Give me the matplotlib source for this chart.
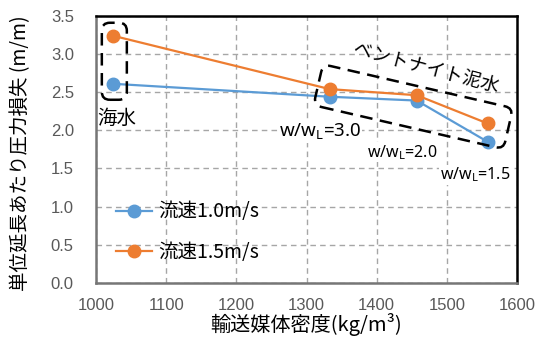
import matplotlib
matplotlib.use('Agg')
import matplotlib.pyplot as plt
from matplotlib.patches import FancyBboxPatch
from matplotlib.transforms import Affine2D

plt.rcParams['font.family'] = ['Noto Sans CJK JP', 'DejaVu Sans']

# density of carrier fluid (kg/m3) and head loss per unit length (m/m)
density = [1024, 1333, 1457, 1558]
loss_v10 = [2.61, 2.44, 2.39, 1.85]
loss_v15 = [3.24, 2.54, 2.46, 2.09]
series_labels = ['流速1.0m/s', '流速1.5m/s']
ratio_labels = ['3.0', '2.0', '1.5']

blue = '#5B9BD5'
orange = '#ED7D31'
tick_gray = '#595959'

fig = plt.figure(figsize=(5.46, 3.45), dpi=100)
ax = fig.add_axes([0.176, 0.180, 0.771, 0.774])

ax.plot(density, loss_v10, '-o', color=blue, lw=1.6, ms=9, label=series_labels[0], zorder=3)
ax.plot(density, loss_v15, '-o', color=orange, lw=1.6, ms=9, label=series_labels[1], zorder=3)

ax.set_xlim(1000, 1600)
ax.set_ylim(0, 3.5)
ax.set_xticks(range(1000, 1601, 100))
ax.set_yticks([i * 0.5 for i in range(8)])
ax.set_yticklabels(['%.1f' % (i * 0.5) for i in range(8)])
ax.tick_params(length=0, labelsize=12, labelcolor=tick_gray)
ax.tick_params(axis='x', pad=11)
ax.tick_params(axis='y', pad=16)
for lab in ax.get_xticklabels() + ax.get_yticklabels():
    lab.set_family('Liberation Sans')
ax.grid(True, ls=(0, (4, 3)), color='#A6A6A6', lw=1.0)
ax.set_axisbelow(True)

for s in ['top', 'right']:
    ax.spines[s].set_color('black')
    ax.spines[s].set_linewidth(1.8)
for s in ['left', 'bottom']:
    ax.spines[s].set_color('#767676')
    ax.spines[s].set_linewidth(1.8)

ax.set_xlabel('輸送媒体密度(kg/m³)', fontsize=14.5, labelpad=0)
ax.set_ylabel('単位延長あたり圧力損失 (m/m)', fontsize=14)
ax.yaxis.set_label_coords(-0.155, 0.485)

ax.legend(loc='center left', bbox_to_anchor=(0.0, 0.19), frameon=False,
          fontsize=14, handlelength=1.9, handletextpad=0.3, labelspacing=1.0,
          borderaxespad=0.6)


def rounded_box(cx, cy, w, h, angle=0.0):
    # dashed rounded frame drawn in pixels around a data point
    px, py = ax.transData.transform((cx, cy))
    box = FancyBboxPatch((px - w / 2, py - h / 2), w, h,
                         boxstyle='round,pad=0,rounding_size=8',
                         fill=False, ec='black', lw=1.8, ls=(0, (5, 3)),
                         transform=Affine2D().rotate_deg_around(px, py, angle),
                         clip_on=False, zorder=4)
    fig.add_artist(box)


rounded_box(1026, 2.905, 25, 77)
rounded_box(1452, 2.31, 195, 42, angle=-13)

ax.text(1030, 2.15, '海水', fontsize=14, ha='center', va='center')
ax.text(1470, 2.82, 'ベントナイト泥水', fontsize=13.5, ha='center', va='center', rotation=-15)

bg = dict(facecolor='white', edgecolor='none', pad=0.5)
ax.text(1319, 1.98, 'w/w$_\\mathregular{L}$=' + ratio_labels[0], fontsize=13.5,
        family='Noto Sans', ha='center', va='center', bbox=bg, zorder=5)
ax.text(1436, 1.71, 'w/w$_\\mathregular{L}$=' + ratio_labels[1], fontsize=11.5,
        family='Noto Sans', ha='center', va='center', bbox=bg, zorder=5)
ax.text(1540, 1.42, 'w/w$_\\mathregular{L}$=' + ratio_labels[2], fontsize=11.5,
        family='Noto Sans', ha='center', va='center', bbox=bg, zorder=5)

fig.savefig('out.png', dpi=100)
